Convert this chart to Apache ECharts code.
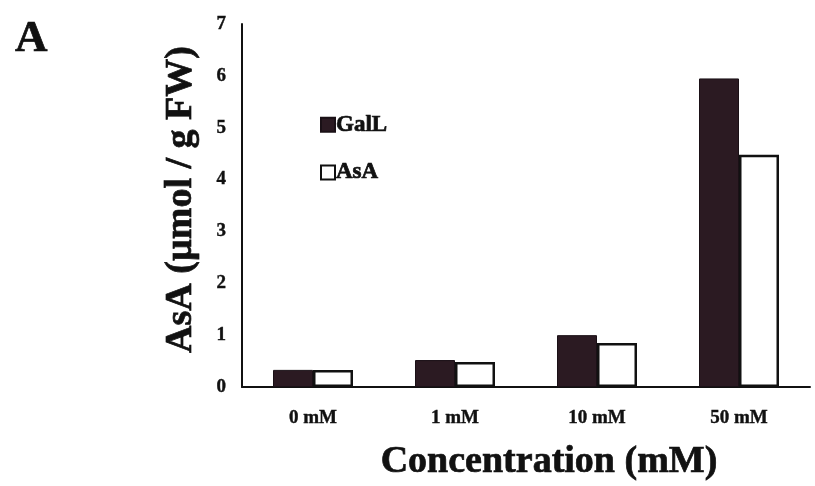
<!DOCTYPE html>
<html>
<head>
<meta charset="utf-8">
<script src="https://cdn.jsdelivr.net/npm/echarts@6/dist/echarts.min.js"></script>
<style>
  html, body { margin: 0; padding: 0; background: #fff; }
  #chart { width: 815px; height: 486px; }
</style>
</head>
<body>
<div id="chart"></div>
<script>
// concentrations on the x axis
var categories = ['0 mM', '1 mM', '10 mM', '50 mM']
// AsA content (µmol / g FW)
var gallValues = [0.33, 0.52, 1.0, 5.95]
var asaValues = [0.33, 0.48, 0.85, 4.48]
var yTicks = [0, 1, 2, 3, 4, 5, 6, 7]

var serif = 'Liberation Serif'
var ink = '#111'
// scanned Times bold looks heavier, a thin stroke thickens the glyphs
var heavy = { fontFamily: serif, fontWeight: 'bold', color: ink, textBorderColor: ink, textBorderWidth: 0.7 }

var chart = echarts.init(document.getElementById('chart'))

chart.setOption({
  animation: false,
  backgroundColor: '#fff',
  textStyle: { fontFamily: serif, color: ink },
  title: {
    text: 'A',
    left: 10,
    top: 12,
    textStyle: Object.assign({}, heavy, { fontSize: 45 })
  },
  legend: {
    orient: 'vertical',
    left: 315,
    top: 108,
    itemWidth: 14,
    itemHeight: 14,
    itemGap: 24,
    icon: 'rect',
    textStyle: Object.assign({}, heavy, { fontSize: 23, padding: [0, 0, 0, -4] }),
    data: ['GalL', 'AsA']
  },
  grid: {
    left: 242,
    right: 5,
    top: 24,
    bottom: 99,
    outerBoundsMode: 'none'
  },
  xAxis: {
    type: 'category',
    data: categories,
    name: 'Concentration (mM)',
    nameLocation: 'middle',
    nameGap: 56,
    nameTextStyle: Object.assign({}, heavy, { fontSize: 38, padding: [0, 0, 0, 46] }),
    axisLine: { lineStyle: { color: ink, width: 2 } },
    axisTick: { show: false },
    axisLabel: Object.assign({}, heavy, { margin: 22, fontSize: 19, textBorderWidth: 0.4 })
  },
  yAxis: {
    type: 'value',
    min: yTicks[0],
    max: yTicks[yTicks.length - 1],
    interval: 1,
    name: 'AsA (µmol / g FW)',
    nameLocation: 'middle',
    nameGap: 42,
    nameTextStyle: Object.assign({}, heavy, { fontSize: 38, padding: [0, 0, 0, 12] }),
    axisLine: { show: true, lineStyle: { color: ink, width: 2 } },
    axisTick: { show: false },
    splitLine: { show: false },
    axisLabel: Object.assign({}, heavy, { margin: 16, fontSize: 19, textBorderWidth: 0.4, padding: [6, 0, 0, 0] })
  },
  series: [{
    name: 'GalL',
    type: 'bar',
    data: gallValues,
    barWidth: 40,
    barGap: '0%',
    itemStyle: { color: '#2b1a22', borderColor: '#1a1016', borderWidth: 1 }
  }, {
    name: 'AsA',
    type: 'bar',
    data: asaValues,
    barWidth: 40,
    itemStyle: { color: '#fff', borderColor: ink, borderWidth: 2.5 }
  }]
})
</script>
</body>
</html>
